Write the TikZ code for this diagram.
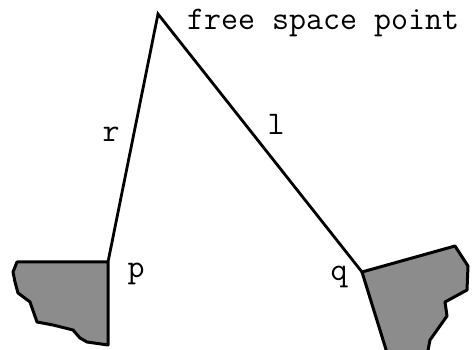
\documentclass[tikz,border=0pt]{standalone}
\usepackage{fontspec}
\usetikzlibrary{calc,positioning}
\tikzset{
  wall/.style={draw=black,line width=3pt,line join=round,fill=black!45},
  ray/.style={draw=black,line width=2.8pt},
  lbl/.style={font=\ttfamily\fontsize{33}{33}\selectfont,inner sep=0pt,anchor=base}
}

\begin{document}
\begin{tikzpicture}[x=1pt,y=-1pt]
  \useasboundingbox (0,0) rectangle (472,350);
  \coordinate (F) at (158,14); \coordinate (P) at (108,262); \coordinate (Q) at (362,272);
  % obstacles
  \begin{scope}
    \clip (0,0) rectangle (472,350);
    \draw[wall] (P) -- (17,262) -- (13,272) -- (15,282) -- (18,293) -- (30,302) -- (37,322) -- (53,325) -- (73,330) -- (80,338) -- (87,342) -- (108,345) -- cycle;
    \draw[wall] (Q) -- (455,246) -- (468,266) -- (467,290) -- (445,302) -- (447,316) -- (430,340) -- (427,356) -- (388,356) -- cycle;
  \end{scope}
  \draw[ray,line cap=round] (P) -- (F) -- (Q);
  \node[lbl,anchor=base west] (fsp) at (187,30) {free space point};
  \foreach \n/\x/\y in {r/111/142, l/276/135, p/136/278, q/339/281}
    {\node[lbl] (\n) at (\x,\y) {\n};}
\end{tikzpicture}
\end{document}
